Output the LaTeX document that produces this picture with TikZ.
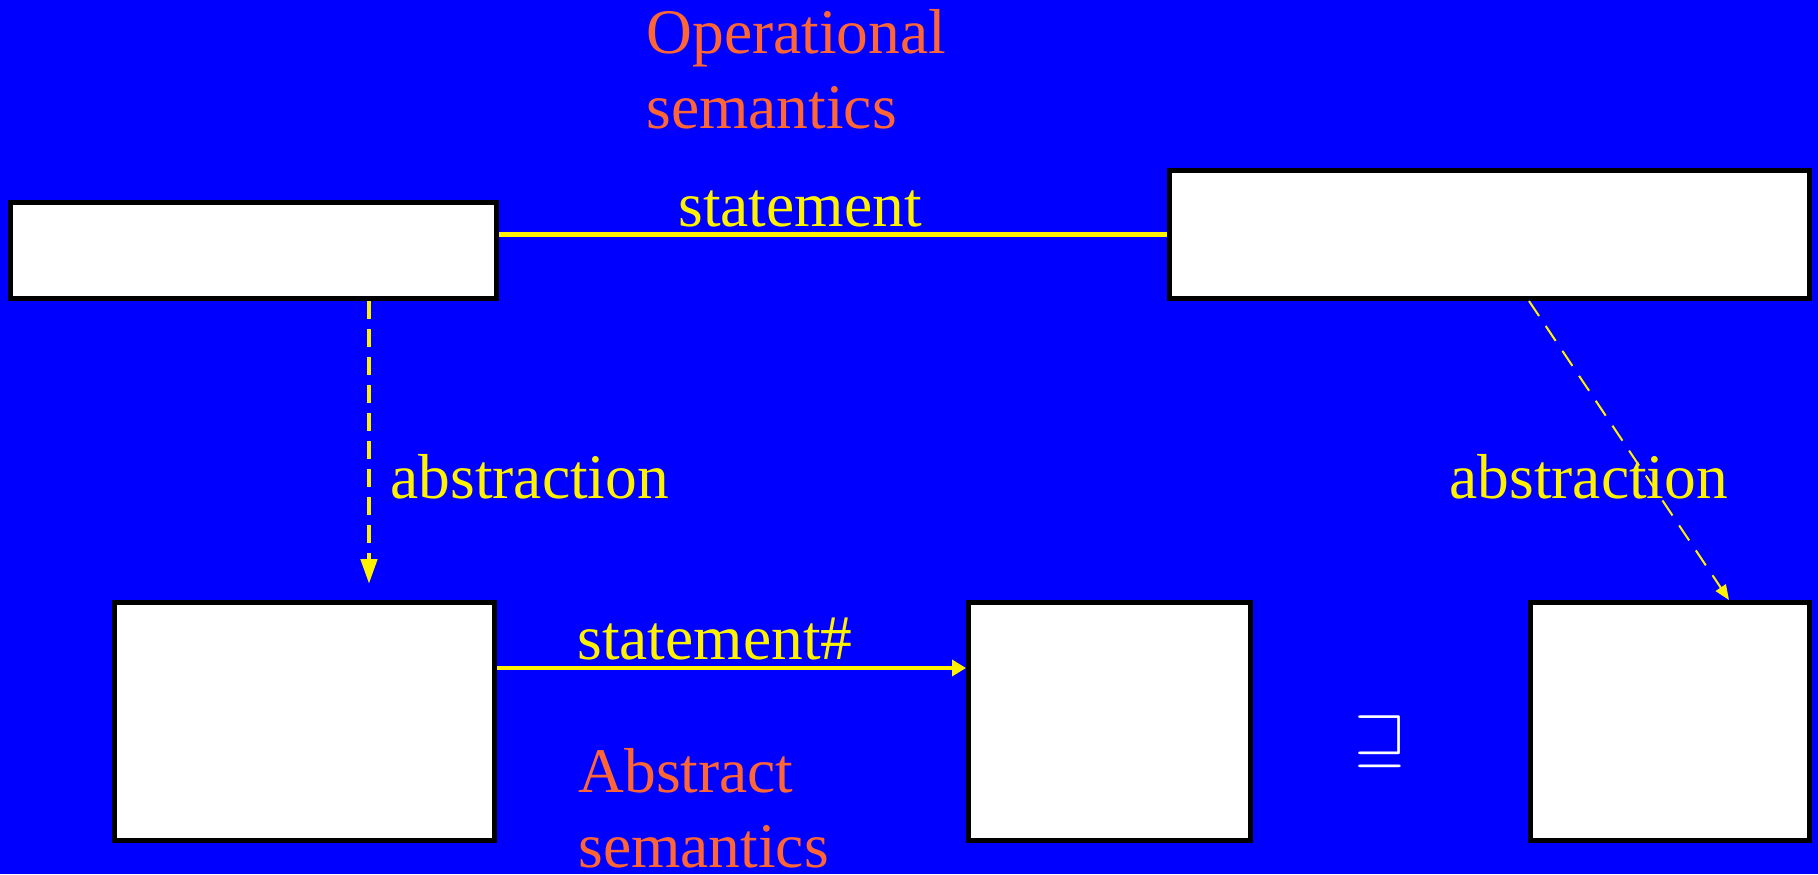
\documentclass[tikz,border=0pt]{standalone}
\usepackage{amssymb}
\usepackage{fontspec}
\setmainfont{Liberation Serif}
\usepackage{xcolor}
\usetikzlibrary{arrows.meta}

\definecolor{bgblue}{RGB}{0,0,255}
\definecolor{semorange}{RGB}{255,102,51}

\begin{document}
\begin{tikzpicture}[
      x=0.5pt, y=-0.5pt,
      every node/.style={font=\fontsize{31.75}{37.5}\selectfont},
      box/.style={draw=black, fill=white, line width=2.3pt, rectangle, inner sep=0pt},
      lbl/.style={text=yellow, anchor=base west, inner sep=0pt},
      semlbl/.style={text=semorange, anchor=base west, inner sep=0pt, align=left},
      stmtline/.style={yellow, line width=2.2pt},
      stmtarr/.style={yellow, line width=2pt, -{Triangle[length=7pt, width=8pt]}},
      absarr/.style={yellow, line width=2.3pt, dash pattern=on 9pt off 5pt, -{Triangle[length=12.5pt, width=8pt]}},
      absdiag/.style={yellow, line width=1pt, dash pattern=on 9pt off 6pt, -{Triangle[length=7.5pt, width=6pt]}},
    ]
    \useasboundingbox (0,0) rectangle (1818,874);
    \fill[bgblue] (0,0) rectangle (1818,874);

    % concrete states
    \node[box, minimum width=243.2pt, minimum height=48.2pt] (conc) at (253.5,250.5) {};
    \node[box, minimum width=320.2pt, minimum height=64.2pt] (concnext) at (1489.5,234.5) {};
    % abstract states
    \node[box, minimum width=190.2pt, minimum height=119.2pt] (absin) at (304.5,721.5) {};
    \node[box, minimum width=141.2pt, minimum height=119.2pt] (absout) at (1109.5,721.5) {};
    \node[box, minimum width=139.7pt, minimum height=119.2pt] (absnext) at (1670,721.5) {};

    % labels (base = last line)
    \node[semlbl] (opsem) at (646,128) {Operational\\semantics};
    \node[lbl] (stmt) at (678,226) {statement};
    \node[lbl] (absl) at (390,498) {abstraction};
    \node[lbl] (absr) at (1449,498) {abstraction};
    \node[lbl] (stmtabs) at (577,659) {statement\#};
    \node[semlbl] (abssem) at (578,867) {Abstract\\semantics};
    \node[text=white, inner sep=0pt] (sqge) at (1381,741.5) {\scalebox{1.35}{$\sqsupseteq$}};

    \draw[stmtline] (conc.east |- concnext.west) -- (concnext.west);
    \draw[absarr] ([xshift=57.75pt]conc.south) -- ([xshift=32.25pt, yshift=8pt]absin.north);
    \draw[absdiag] ([xshift=19.75pt]concnext.south) -- ([xshift=29.5pt]absnext.north);
    \draw[stmtarr] ([yshift=26.75pt]absin.east) -- ([yshift=26.75pt]absout.west);
  \end{tikzpicture}
\end{document}
